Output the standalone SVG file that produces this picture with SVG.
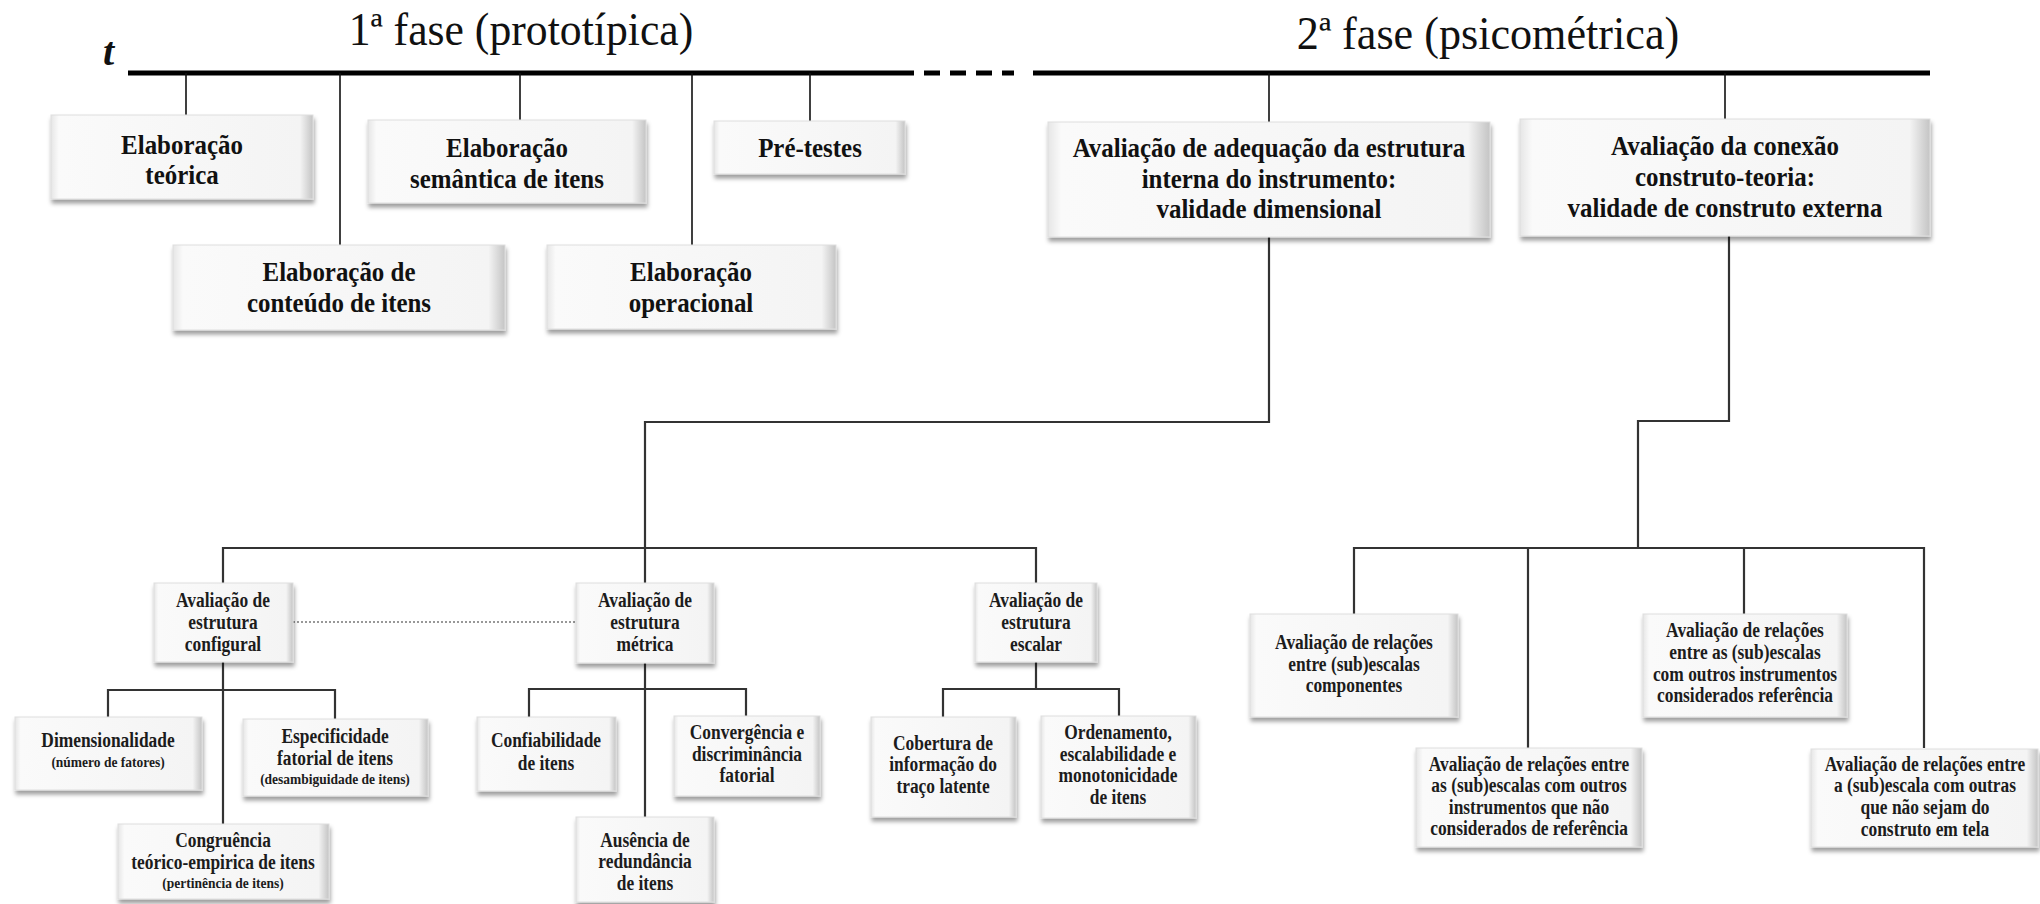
<svg xmlns="http://www.w3.org/2000/svg" width="2040" height="904" viewBox="0 0 2040 904">
<defs>
<linearGradient id="bf" x1="0" y1="0" x2="1" y2="0">
<stop offset="0" stop-color="#e6e6e6"/>
<stop offset="0.03" stop-color="#fafafa"/>
<stop offset="0.95" stop-color="#f4f4f4"/>
<stop offset="1" stop-color="#c4c4c4"/>
</linearGradient>
<filter id="sh" x="-5%" y="-5%" width="112%" height="125%">
<feDropShadow dx="1" dy="4" stdDeviation="2" flood-color="#000" flood-opacity="0.38"/>
</filter>
</defs>
<style>
.box{fill:url(#bf);stroke:#dedede;stroke-width:1;filter:url(#sh)}
text{font-family:"Liberation Serif","Times New Roman",serif;fill:#111;text-anchor:middle}
.ttl{font-size:46px;font-weight:normal}
.t1{font-size:28px;font-weight:bold}
.t2{font-size:20px;font-weight:bold;fill:#1c1c1c}
.sm{font-size:15.5px;font-weight:bold;fill:#1c1c1c}
.tl{stroke:#000;stroke-width:5;fill:none}
.tk{stroke:#111;stroke-width:1.6;fill:none}
.ln{stroke:#333;stroke-width:2.2;fill:none}
.dot{stroke:#777;stroke-width:1.5;stroke-dasharray:2 2;fill:none}
</style>

<g id="titles">
<text x="103" y="65" style="font-size:40px;font-weight:bold;font-style:italic;text-anchor:start">t</text>
<g transform="translate(521 0) scale(0.95 1)"><text class="ttl" x="0" y="45">1ª fase (prototípica)</text></g>
<g transform="translate(1488 0) scale(0.96 1)"><text class="ttl" x="0" y="49">2ª fase (psicométrica)</text></g>
</g>

<g id="connectors">
<path class="tl" d="M128 73H914"/>
<path class="tl" d="M924 73H1014" style="stroke-dasharray:16 10"/>
<path class="tl" d="M1033 73H1930"/>
<path class="tk" d="M186 73V115M340 73V245M520 73V120M692 73V245M810 73V121M1269 73V122M1725 73V119"/>
<path class="ln" d="M1269 237V422H645V583M223 583V548H1036V583"/>
<path class="ln" d="M1729 236V421H1638V548M1354 614V548H1924V748M1528 548V748M1744 548V614"/>
<path class="ln" d="M223 662V824M108 717V690H335V719"/>
<path class="ln" d="M645 663V817M529 717V689H746V716"/>
<path class="ln" d="M1036 662V689M943 717V689H1119V716"/>
<path class="dot" d="M293 622H576"/>
</g>

<g id="n-teorica">
<rect class="box" x="51" y="115" width="262" height="84"/>
<g transform="translate(182 0) scale(0.89 1)"><text class="t1"><tspan x="0" y="154">Elaboração</tspan><tspan x="0" y="184">teórica</tspan></text></g>
</g>
<g id="n-semantica">
<rect class="box" x="368" y="120" width="278" height="83"/>
<g transform="translate(507 0) scale(0.89 1)"><text class="t1"><tspan x="0" y="157">Elaboração</tspan><tspan x="0" y="188">semântica de itens</tspan></text></g>
</g>
<g id="n-pretestes">
<rect class="box" x="714" y="121" width="191" height="53"/>
<g transform="translate(810 0) scale(0.89 1)"><text class="t1"><tspan x="0" y="157">Pré-testes</tspan></text></g>
</g>
<g id="n-conteudo">
<rect class="box" x="173" y="245" width="332" height="85"/>
<g transform="translate(339 0) scale(0.89 1)"><text class="t1"><tspan x="0" y="281">Elaboração de</tspan><tspan x="0" y="312">conteúdo de itens</tspan></text></g>
</g>
<g id="n-operacional">
<rect class="box" x="547" y="245" width="289" height="84"/>
<g transform="translate(691 0) scale(0.89 1)"><text class="t1"><tspan x="0" y="281">Elaboração</tspan><tspan x="0" y="312">operacional</tspan></text></g>
</g>
<g id="n-adequacao">
<rect class="box" x="1048" y="122" width="442" height="115"/>
<g transform="translate(1269 0) scale(0.89 1)"><text class="t1"><tspan x="0" y="157">Avaliação de adequação da estrutura</tspan><tspan x="0" y="188">interna do instrumento:</tspan><tspan x="0" y="218">validade dimensional</tspan></text></g>
</g>
<g id="n-conexao">
<rect class="box" x="1520" y="119" width="410" height="117"/>
<g transform="translate(1725 0) scale(0.89 1)"><text class="t1"><tspan x="0" y="155">Avaliação da conexão</tspan><tspan x="0" y="186">construto-teoria:</tspan><tspan x="0" y="217">validade de construto externa</tspan></text></g>
</g>

<g id="n-configural">
<rect class="box" x="154" y="583" width="139" height="79"/>
<g transform="translate(223 0) scale(0.87 1)"><text class="t2"><tspan x="0" y="607">Avaliação de</tspan><tspan x="0" y="629">estrutura</tspan><tspan x="0" y="651">configural</tspan></text></g>
</g>
<g id="n-metrica">
<rect class="box" x="576" y="583" width="138" height="80"/>
<g transform="translate(645 0) scale(0.87 1)"><text class="t2"><tspan x="0" y="607">Avaliação de</tspan><tspan x="0" y="629">estrutura</tspan><tspan x="0" y="651">métrica</tspan></text></g>
</g>
<g id="n-escalar">
<rect class="box" x="975" y="583" width="122" height="79"/>
<g transform="translate(1036 0) scale(0.87 1)"><text class="t2"><tspan x="0" y="607">Avaliação de</tspan><tspan x="0" y="629">estrutura</tspan><tspan x="0" y="651">escalar</tspan></text></g>
</g>
<g id="n-dimensionalidade">
<rect class="box" x="15" y="717" width="187" height="73"/>
<g transform="translate(108 0) scale(0.87 1)"><text class="t2"><tspan x="0" y="747">Dimensionalidade</tspan><tspan class="sm" x="0" y="767">(número de fatores)</tspan></text></g>
</g>
<g id="n-especificidade">
<rect class="box" x="243" y="719" width="185" height="77"/>
<g transform="translate(335 0) scale(0.87 1)"><text class="t2"><tspan x="0" y="743">Especificidade</tspan><tspan x="0" y="765">fatorial de itens</tspan><tspan class="sm" x="0" y="784">(desambiguidade de itens)</tspan></text></g>
</g>
<g id="n-congruencia">
<rect class="box" x="118" y="824" width="211" height="75"/>
<g transform="translate(223 0) scale(0.87 1)"><text class="t2"><tspan x="0" y="847">Congruência</tspan><tspan x="0" y="869">teórico-empirica de itens</tspan><tspan class="sm" x="0" y="888">(pertinência de itens)</tspan></text></g>
</g>
<g id="n-confiabilidade">
<rect class="box" x="477" y="717" width="139" height="74"/>
<g transform="translate(546 0) scale(0.87 1)"><text class="t2"><tspan x="0" y="747">Confiabilidade</tspan><tspan x="0" y="770">de itens</tspan></text></g>
</g>
<g id="n-ausencia">
<rect class="box" x="576" y="817" width="138" height="85"/>
<g transform="translate(645 0) scale(0.87 1)"><text class="t2"><tspan x="0" y="847">Ausência de</tspan><tspan x="0" y="868">redundância</tspan><tspan x="0" y="890">de itens</tspan></text></g>
</g>
<g id="n-convergencia">
<rect class="box" x="674" y="716" width="146" height="80"/>
<g transform="translate(747 0) scale(0.87 1)"><text class="t2"><tspan x="0" y="739">Convergência e</tspan><tspan x="0" y="761">discriminância</tspan><tspan x="0" y="782">fatorial</tspan></text></g>
</g>
<g id="n-cobertura">
<rect class="box" x="871" y="717" width="145" height="100"/>
<g transform="translate(943 0) scale(0.87 1)"><text class="t2"><tspan x="0" y="750">Cobertura de</tspan><tspan x="0" y="771">informação do</tspan><tspan x="0" y="793">traço latente</tspan></text></g>
</g>
<g id="n-ordenamento">
<rect class="box" x="1041" y="716" width="155" height="102"/>
<g transform="translate(1118 0) scale(0.87 1)"><text class="t2"><tspan x="0" y="739">Ordenamento,</tspan><tspan x="0" y="761">escalabilidade e</tspan><tspan x="0" y="782">monotonicidade</tspan><tspan x="0" y="804">de itens</tspan></text></g>
</g>
<g id="n-ext1">
<rect class="box" x="1250" y="614" width="208" height="103"/>
<g transform="translate(1354 0) scale(0.87 1)"><text class="t2"><tspan x="0" y="649">Avaliação de relações</tspan><tspan x="0" y="671">entre (sub)escalas</tspan><tspan x="0" y="692">componentes</tspan></text></g>
</g>
<g id="n-ext2">
<rect class="box" x="1416" y="748" width="226" height="99"/>
<g transform="translate(1529 0) scale(0.87 1)"><text class="t2"><tspan x="0" y="771">Avaliação de relações entre</tspan><tspan x="0" y="792">as (sub)escalas com outros</tspan><tspan x="0" y="814">instrumentos que não</tspan><tspan x="0" y="835">considerados de referência</tspan></text></g>
</g>
<g id="n-ext3">
<rect class="box" x="1643" y="614" width="204" height="103"/>
<g transform="translate(1745 0) scale(0.87 1)"><text class="t2"><tspan x="0" y="637">Avaliação de relações</tspan><tspan x="0" y="659">entre as (sub)escalas</tspan><tspan x="0" y="681">com outros instrumentos</tspan><tspan x="0" y="702">considerados referência</tspan></text></g>
</g>
<g id="n-ext4">
<rect class="box" x="1811" y="749" width="227" height="98"/>
<g transform="translate(1925 0) scale(0.87 1)"><text class="t2"><tspan x="0" y="771">Avaliação de relações entre</tspan><tspan x="0" y="792">a (sub)escala com outras</tspan><tspan x="0" y="814">que não sejam do</tspan><tspan x="0" y="836">construto em tela</tspan></text></g>
</g>
</svg>
